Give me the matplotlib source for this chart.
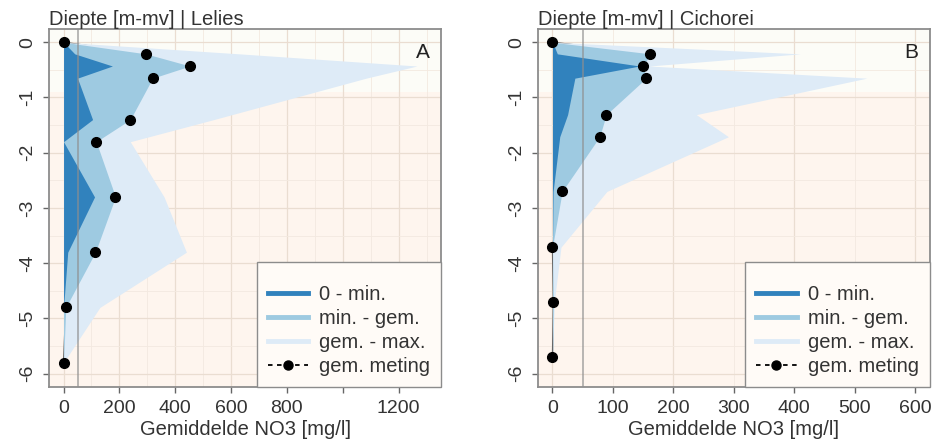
import matplotlib
matplotlib.use("Agg")
import matplotlib.pyplot as plt
from matplotlib.lines import Line2D

plt.rcParams['font.family'] = ['Liberation Sans', 'DejaVu Sans']
plt.rcParams['axes.unicode_minus'] = False

# Lelies (panel A)
depth_a = [0, -0.21, -0.43, -0.65, -1.4, -1.8, -2.8, -3.8, -4.8, -5.8]
min_a = [0, 40, 175, 50, 104, 0, 111, 15, 0, 0]
mean_a = [0, 295, 453, 319, 239, 117, 186, 114, 8, 0]
max_a = [0, 630, 1266, 1084, 538, 239, 360, 440, 130, 0]

# Cichorei (panel B)
depth_b = [0, -0.21, -0.43, -0.65, -1.31, -1.71, -2.7, -3.71, -4.7, -5.7]
min_b = [0, 8, 144, 37, 25, 12, 1, 0, 0, 0]
mean_b = [0, 162, 150, 155, 89, 78, 16, 0, 1.5, 0]
max_b = [0, 410, 160, 520, 238, 291, 90, 14, 3, 0]

xticks_a = [0, 200, 400, 600, 800, 1000, 1200]
xlabels_a = ['0', '200', '400', '600', '800', '', '1200']
xticks_b = [0, 100, 200, 300, 400, 500, 600]
xlabels_b = [str(v) for v in xticks_b]
yticks = [0, -1, -2, -3, -4, -5, -6]

legend_labels = ['0 - min.', 'min. - gem.', 'gem. - max.', 'gem. meting']

C_DARK = '#3182BD'
C_MID = '#9ECAE1'
C_LIGHT = '#DEEBF7'
TXT = '#333333'
FS = 14.5


def panel(ax, depth, vmin, vmean, vmax, xmax, xticks, xlabels, title, tag):
    ax.set_facecolor('#FEF5EE')
    ax.axhspan(-0.9, 0.5, color='#FCFCF7', lw=0, zorder=0)

    # grid: darker every 200 / 1 m, lighter every 100 / 0.5 m
    for x in range(0, xmax + 1, 100):
        major = (x % 200 == 0)
        ax.axvline(x, color='#EADDD1' if major else '#F3E9E0',
                   lw=0.9 if major else 0.6, zorder=0.5)
    for k in range(0, 13):
        major = (k % 2 == 0)
        ax.axhline(-0.5 * k, color='#EADDD1' if major else '#F3E9E0',
                   lw=0.9 if major else 0.6, zorder=0.5)

    ax.plot(vmean, depth, color='#666666', lw=1.0, zorder=1.5)
    ax.fill_betweenx(depth, 0, vmax, color=C_LIGHT, lw=0, zorder=2)
    ax.fill_betweenx(depth, 0, vmean, color=C_MID, lw=0, zorder=2.1)
    ax.fill_betweenx(depth, 0, vmin, color=C_DARK, lw=0, zorder=2.2)
    ax.axvline(50, color='#8F8F8F', lw=1.1, alpha=0.8, zorder=3)
    ax.plot(vmean, depth, 'o', color='black', ms=7, zorder=5)

    pad = 0.04 * xmax
    ax.set_xlim(-pad, xmax + pad)
    ax.set_ylim(-6.24, 0.24)
    ax.set_xticks(xticks)
    ax.set_xticklabels(xlabels)
    ax.set_yticks(yticks)
    ax.set_yticklabels([str(v) for v in yticks], rotation=90, va='center')
    ax.tick_params(length=4.5, width=1, color='#666666', labelcolor=TXT,
                   labelsize=FS - 0.5, pad=5)
    for s in ax.spines.values():
        s.set_color('#8C8C8C')
        s.set_linewidth(1.3)
    ax.set_xlabel('Gemiddelde NO3 [mg/l]', fontsize=FS, color=TXT, labelpad=2)
    ax.text(0, 1.011, title, transform=ax.transAxes, ha='left', va='baseline',
            fontsize=FS, color=TXT)
    ax.text(0.953, 0.933, tag, transform=ax.transAxes, ha='center', va='center',
            fontsize=FS + 0.5, color='#222222')

    handles = [Line2D([], [], color=C_DARK, lw=3.5),
               Line2D([], [], color=C_MID, lw=3.5),
               Line2D([], [], color=C_LIGHT, lw=3.5),
               Line2D([], [], color='black', lw=1.3, ls=(0, (2.5, 2.5)),
                      marker='o', ms=6.5)]
    leg = ax.legend(handles, legend_labels, loc='lower right', borderaxespad=0,
                    fontsize=FS, handlelength=2.0, handletextpad=0.55,
                    borderpad=0.55, labelspacing=0.25, fancybox=False,
                    framealpha=1, facecolor='#FFFBF7', edgecolor='#8C8C8C',
                    numpoints=1, title=' ', title_fontsize=5)
    leg.get_frame().set_linewidth(1.0)
    leg.set_zorder(6)
    for t in leg.get_texts():
        t.set_color(TXT)


fig = plt.figure(figsize=(9.34, 4.46), dpi=100)
ax1 = fig.add_axes([0.0525, 0.1323, 0.4197, 0.8027])
ax2 = fig.add_axes([0.576, 0.1323, 0.4194, 0.8027])

panel(ax1, depth_a, min_a, mean_a, max_a, 1300, xticks_a, xlabels_a,
      'Diepte [m-mv] | Lelies', 'A')
panel(ax2, depth_b, min_b, mean_b, max_b, 600, xticks_b, xlabels_b,
      'Diepte [m-mv] | Cichorei', 'B')

fig.savefig('out.png', dpi=100)
